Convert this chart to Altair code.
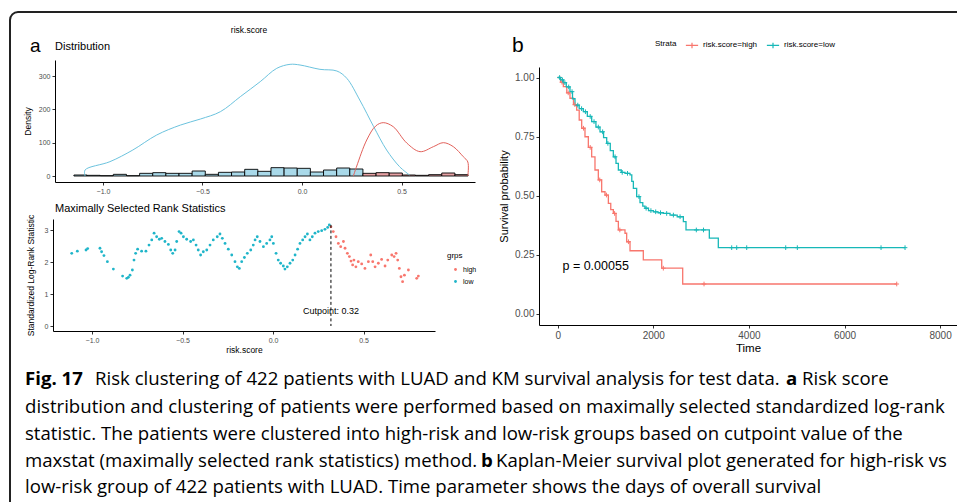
import altair as alt
import pandas as pd

FONT = "Liberation Sans"
CAPTION_FONT = "Open Sans"

# ---------------- data: panel a (distribution) ----------------
hist_first_edge = -1.146
hist_bin_width = 0.066
hist_counts = [3, 2, 1, 5, 1, 8, 10, 8, 8, 15, 5, 11, 12, 20, 14, 25, 24, 23, 12, 18,
               24, 21, 8, 10, 9, 3, 2, 4, 9, 4]
hist_groups = ["low"] * 22 + ["high"] * 8

dens_low_x = [-1.09, -1.09, -0.965, -0.85, -0.73, -0.61, -0.51, -0.41, -0.31, -0.21, -0.127,
              -0.06, -0.01, 0.09, 0.175, 0.225, 0.29, 0.36, 0.425, 0.49, 0.54]
dens_low_y = [0, 18, 43, 78, 123, 153, 171, 193, 238, 283, 323, 335, 333, 320, 315, 293,
              228, 148, 78, 28, 3]
dens_high_x = [0.258, 0.275, 0.325, 0.37, 0.408, 0.458, 0.526, 0.593, 0.66, 0.71, 0.76,
               0.81, 0.833, 0.833]
dens_high_y = [0, 30, 108, 150, 160, 148, 99, 73, 88, 100, 88, 58, 42, 0]

# ---------------- data: panel a (maximally selected rank statistics) ----------------
scatter_low_x = [-1.112, -1.081, -1.033, -1.024, -0.956, -0.947, -0.934, -0.915, -0.882, -0.831,
                 -0.808, -0.799, -0.79, -0.777, -0.768, -0.759, -0.748, -0.726, -0.702, -0.685,
                 -0.67, -0.657, -0.643, -0.628, -0.615, -0.597, -0.578, -0.565, -0.554, -0.541,
                 -0.532, -0.519, -0.508, -0.495, -0.477, -0.455, -0.44, -0.425, -0.413, -0.4,
                 -0.385, -0.366, -0.348, -0.33, -0.308, -0.293, -0.28, -0.265, -0.247, -0.228,
                 -0.21, -0.197, -0.186, -0.173, -0.158, -0.142, -0.123, -0.109, -0.099, -0.087,
                 -0.072, -0.053, -0.035, -0.017, -0.007, 0.002, 0.017, 0.029, 0.042, 0.057,
                 0.066, 0.079, 0.094, 0.109, 0.122, 0.136, 0.149, 0.164, 0.177, 0.19,
                 0.204, 0.217, 0.232, 0.25, 0.269, 0.287, 0.302, 0.311]
scatter_low_y = [2.27, 2.34, 2.375, 2.42, 2.43, 2.32, 2.2, 2.01, 1.78, 1.56,
                 1.49, 1.52, 1.59, 1.75, 2.06, 2.27, 2.4, 2.34, 2.34, 2.53,
                 2.69, 2.9, 2.79, 2.71, 2.74, 2.64, 2.55, 2.375, 2.27, 2.375,
                 2.64, 2.95, 2.9, 2.79, 2.71, 2.64, 2.69, 2.53, 2.375, 2.22,
                 2.32, 2.375, 2.53, 2.69, 2.79, 2.875, 2.74, 2.58, 2.4, 2.22,
                 2.01, 1.85, 1.8, 2.01, 2.14, 2.27, 2.375, 2.53, 2.69, 2.79,
                 2.64, 2.48, 2.58, 2.69, 2.79, 2.58, 2.27, 2.06, 1.96, 1.875,
                 1.78, 1.85, 1.96, 2.06, 2.22, 2.4, 2.58, 2.69, 2.79, 2.875,
                 2.69, 2.79, 2.9, 2.95, 2.98, 3.02, 3.08, 3.16]
scatter_high_x = [0.32, 0.333, 0.348, 0.361, 0.374, 0.389, 0.398, 0.411, 0.422, 0.431,
                  0.44, 0.447, 0.458, 0.471, 0.49, 0.508, 0.527, 0.54, 0.551, 0.564,
                  0.582, 0.6, 0.619, 0.634, 0.656, 0.669, 0.68, 0.689, 0.698, 0.707,
                  0.716, 0.726, 0.748, 0.794, 0.803]
scatter_high_y = [3.1, 2.95, 2.79, 2.58, 2.48, 2.64, 2.43, 2.27, 2.17, 2.03,
                  1.91, 2.06, 1.85, 2.01, 1.94, 1.8, 2.01, 2.22, 2.01, 1.85,
                  1.96, 2.08, 1.875, 2.06, 2.22, 2.17, 2.27, 2.06, 1.8, 1.54,
                  1.385, 1.59, 1.75, 1.49, 1.56]
cut_point = 0.32
cut_stat = 3.16
cut_label = "Cutpoint: 0.32"
cut_label_stat = 0.48

# ---------------- data: panel b (Kaplan-Meier) ----------------
strata_names = ["risk.score=high", "risk.score=low"]
km_high_time = [0, 60, 118, 190, 257, 330, 397, 450, 502, 571, 641, 711, 780, 850, 920, 990,
                1060, 1110, 1164, 1220, 1269, 1408, 1443, 1513, 1791, 2176, 2615, 7092]
km_high_surv = [1.0, 0.98, 0.961, 0.935, 0.912, 0.885, 0.862, 0.82, 0.785, 0.749, 0.704, 0.664,
                0.608, 0.566, 0.516, 0.502, 0.467, 0.44, 0.424, 0.39, 0.354, 0.34, 0.304, 0.266,
                0.227, 0.192, 0.125, 0.125]
km_low_time = [0, 60, 118, 180, 257, 310, 362, 450, 536, 620, 711, 800, 885, 960, 1025, 1100,
               1164, 1220, 1269, 1330, 1408, 1513, 1550, 1583, 1652, 1722, 1780, 1826, 1900,
               2001, 2100, 2210, 2350, 2500, 2629, 2684, 3117, 3172, 3339, 3360, 7266]
km_low_surv = [1.0, 0.99, 0.978, 0.96, 0.94, 0.91, 0.883, 0.868, 0.855, 0.835, 0.813, 0.79,
               0.77, 0.745, 0.721, 0.69, 0.664, 0.636, 0.608, 0.598, 0.594, 0.587, 0.56, 0.53,
               0.495, 0.47, 0.455, 0.446, 0.436, 0.431, 0.427, 0.424, 0.417, 0.41, 0.389, 0.354,
               0.354, 0.319, 0.319, 0.279, 0.279]
km_high_censor = [90, 220, 360, 540, 680, 880, 1020, 1190, 1300, 1480, 2210, 3061, 7092]
km_low_censor = [40, 100, 150, 230, 300, 420, 500, 580, 680, 760, 850, 940, 1050, 1200, 1350,
                 1460, 1700, 1850, 1950, 2050, 2150, 2280, 2420, 2560, 2900, 3050, 3640, 3745,
                 3954, 4770, 5013, 6764, 7266]
p_label = "p = 0.00055"
p_time = 100
p_surv = 0.2

# ---------------- texts ----------------
label_a = "a"
label_b = "b"
top_title = "risk.score"
dist_title = "Distribution"
stat_title = "Maximally Selected Rank Statistics"
caption_text = [
    ["Fig. 17", "Risk clustering of 422 patients with LUAD and KM survival analysis for test data.", "a", "Risk score"],
    ["distribution and clustering of patients were performed based on maximally selected standardized log-rank"],
    ["statistic. The patients were clustered into high-risk and low-risk groups based on cutpoint value of the"],
    ["maxstat (maximally selected rank statistics) method.", "b", "Kaplan-Meier survival plot generated for high-risk vs"],
    ["low-risk group of 422 patients with LUAD. Time parameter shows the days of overall survival"],
]
caption_bold = [[True, False, True, False], [False], [False], [False, True, False], [False]]

# ---------------- layout / style (pixels on the 957x502 canvas) ----------------
W, H = 957, 502
caption_x = [[25, 95, 786, 802], [25], [25], [25, 481, 496], [25]]
caption_y = [385, 413, 440, 467, 493]
CAP_SIZE = 18.6

DENS_X, DENS_Y = [55, 475], [182, 60]
SCAT_X, SCAT_Y = [53, 435], [331, 219]
KM_X, KM_Y = [539, 957], [325, 67]
dens_x_dom, dens_y_dom = [-1.241, 0.869], [-18, 348]
scat_x_dom, scat_y_dom = [-1.2155, 0.895], [-0.156, 3.344]
km_x_dom, km_y_dom = [-391, 8353], [-0.0487, 1.0445]

one = pd.DataFrame({"v": [0]})


def sc(dom, rng):
    return alt.Scale(domain=dom, range=rng, nice=False, zero=False)


def axis(orient, offset, small=True, **kw):
    base = dict(orient=orient, offset=offset, grid=False,
                labelFont=FONT, labelFontSize=7 if small else 10, labelColor="#4D4D4D",
                tickSize=3, tickColor="#333333", domainColor="black", domainWidth=1,
                labelPadding=2, titleFont=FONT, titleFontSize=8.5 if small else 11.5,
                titleFontWeight="normal", titleColor="black")
    base.update(kw)
    return alt.Axis(**base)


def text_layer(txt, x, y, size, align="left", font=FONT, weight="normal"):
    return alt.Chart(pd.DataFrame({"t": [txt]})).mark_text(
        align=align, baseline="alphabetic", fontSize=size, font=font,
        fontWeight=weight, color="black"
    ).encode(x=alt.value(x), y=alt.value(y), text="t:N")


# ---------------- frame ----------------
frame_top = alt.Chart(one).mark_rule(color="#222222", strokeWidth=2).encode(
    x=alt.value(18), x2=alt.value(W), y=alt.value(12))
frame_left = alt.Chart(one).mark_rule(color="#222222", strokeWidth=2).encode(
    x=alt.value(10), y=alt.value(20), y2=alt.value(H))
frame_corner = alt.Chart(one).mark_arc(theta=4.712389, theta2=6.283185, radius=9, radius2=7,
                                       color="#222222").encode(x=alt.value(18), y=alt.value(20))

# ---------------- density panel ----------------
hist_df = pd.DataFrame({
    "lo": [hist_first_edge + i * hist_bin_width for i in range(len(hist_counts))],
    "count": hist_counts,
    "grp": hist_groups,
})
hist_df["hi"] = hist_df["lo"] + hist_bin_width
hist_df["base"] = 0

dens_df = pd.concat([
    pd.DataFrame({"x": dens_low_x, "y": dens_low_y, "grp": "low", "ord": range(len(dens_low_x))}),
    pd.DataFrame({"x": dens_high_x, "y": dens_high_y, "grp": "high", "ord": range(len(dens_high_x))}),
], ignore_index=True)

bars = alt.Chart(hist_df).mark_rect(stroke="black", strokeWidth=0.9).encode(
    x=alt.X("lo:Q", scale=sc(dens_x_dom, DENS_X),
            axis=axis("bottom", DENS_Y[0] - H, values=[-1, -0.5, 0, 0.5], format=".1f"), title=None),
    x2="hi:Q",
    y=alt.Y("count:Q", scale=sc(dens_y_dom, DENS_Y),
            axis=axis("left", -DENS_X[0], values=[0, 100, 200, 300], titlePadding=6), title="Density"),
    y2="base:Q",
    fill=alt.Fill("grp:N", scale=alt.Scale(domain=["low", "high"], range=["#A9D9E9", "#E7A1A4"]), legend=None),
)
dens_lines = alt.Chart(dens_df).mark_line(strokeWidth=1, interpolate="catmull-rom").encode(
    x=alt.X("x:Q", scale=sc(dens_x_dom, DENS_X), axis=None),
    y=alt.Y("y:Q", scale=sc(dens_y_dom, DENS_Y), axis=None),
    stroke=alt.Stroke("grp:N", scale=alt.Scale(domain=["low", "high"], range=["#6CC3DE", "#E2615B"]), legend=None),
    order="ord:Q",
)

# ---------------- maxstat panel ----------------
scatter_df = pd.concat([
    pd.DataFrame({"score": scatter_low_x, "stat": scatter_low_y, "grps": "low"}),
    pd.DataFrame({"score": scatter_high_x, "stat": scatter_high_y, "grps": "high"}),
], ignore_index=True)
cut_df = pd.DataFrame({"cx": [cut_point], "cy": [cut_stat], "base": [0],
                       "ty": [cut_label_stat], "label": [cut_label]})

points = alt.Chart(scatter_df).mark_circle(size=8, opacity=1).encode(
    x=alt.X("score:Q", scale=sc(scat_x_dom, SCAT_X),
            axis=axis("bottom", SCAT_Y[0] - H, values=[-1, -0.5, 0, 0.5], format=".1f", titlePadding=2),
            title="risk.score"),
    y=alt.Y("stat:Q", scale=sc(scat_y_dom, SCAT_Y),
            axis=axis("left", -SCAT_X[0], values=[0, 1, 2, 3], titlePadding=9),
            title="Standardized Log-Rank Statistic"),
    color=alt.Color("grps:N", scale=alt.Scale(domain=["high", "low"], range=["#F8766D", "#1FB5C9"]),
                    legend=alt.Legend(title="grps", orient="none", legendX=447, legendY=252,
                                      titleFontSize=8, titleFontWeight="normal", titleFont=FONT,
                                      labelFontSize=7, labelFont=FONT, symbolSize=8,
                                      symbolType="circle", rowPadding=4, titlePadding=6,
                                      symbolOffset=5)),
)
cut_rule = alt.Chart(cut_df).mark_rule(strokeDash=[3, 2.5], color="black", strokeWidth=1).encode(
    x=alt.X("cx:Q", scale=sc(scat_x_dom, SCAT_X), axis=None),
    y=alt.Y("cy:Q", scale=sc(scat_y_dom, SCAT_Y), axis=None),
    y2="base:Q",
)
cut_text = alt.Chart(cut_df).mark_text(fontSize=9, font=FONT, color="black", baseline="middle").encode(
    x=alt.X("cx:Q", scale=sc(scat_x_dom, SCAT_X), axis=None),
    y=alt.Y("ty:Q", scale=sc(scat_y_dom, SCAT_Y), axis=None),
    text="label:N",
)


# ---------------- KM panel ----------------
def surv_at(times, survs, t):
    s = survs[0]
    for ti, si in zip(times, survs):
        if ti <= t:
            s = si
    return s


km_df = pd.concat([
    pd.DataFrame({"time": km_high_time, "surv": km_high_surv, "strata": strata_names[0]}),
    pd.DataFrame({"time": km_low_time, "surv": km_low_surv, "strata": strata_names[1]}),
], ignore_index=True)
cens_df = pd.concat([
    pd.DataFrame({"time": km_high_censor,
                  "surv": [surv_at(km_high_time, km_high_surv, t) for t in km_high_censor],
                  "strata": strata_names[0]}),
    pd.DataFrame({"time": km_low_censor,
                  "surv": [surv_at(km_low_time, km_low_surv, t) for t in km_low_censor],
                  "strata": strata_names[1]}),
], ignore_index=True)
p_df = pd.DataFrame({"t": [p_time], "s": [p_surv], "label": [p_label]})

strata_scale = alt.Scale(domain=strata_names, range=["#F8766D", "#17B8B8"])
km_legend = alt.Legend(title="Strata", orient="none", legendX=655, legendY=38,
                       direction="horizontal", titleOrient="left", titleFontSize=8,
                       titleFontWeight="normal", titleFont=FONT, labelFontSize=8,
                       labelFont=FONT, symbolType="M-1,0L1,0M0,-0.45L0,0.45",
                       symbolSize=150, symbolStrokeWidth=1.2, columnPadding=6,
                       labelOffset=4, titlePadding=8)

km_lines = alt.Chart(km_df).mark_line(interpolate="step-after", strokeWidth=1.3).encode(
    x=alt.X("time:Q", scale=sc(km_x_dom, KM_X),
            axis=axis("bottom", KM_Y[0] - H, small=False, values=[0, 2000, 4000, 6000, 8000],
                      format="d", titlePadding=2), title="Time"),
    y=alt.Y("surv:Q", scale=sc(km_y_dom, KM_Y),
            axis=axis("left", -KM_X[0], small=False, values=[0, 0.25, 0.5, 0.75, 1.0],
                      format=".2f", titlePadding=5, titleFontSize=11),
            title="Survival probability"),
    stroke=alt.Stroke("strata:N", scale=strata_scale, legend=km_legend),
)
km_cens = alt.Chart(cens_df).mark_point(shape="M-1,0L1,0M0,-1L0,1", size=22, filled=False,
                                         strokeWidth=1, opacity=1).encode(
    x=alt.X("time:Q", scale=sc(km_x_dom, KM_X), axis=None),
    y=alt.Y("surv:Q", scale=sc(km_y_dom, KM_Y), axis=None),
    stroke=alt.Stroke("strata:N", scale=strata_scale, legend=None),
)
km_p = alt.Chart(p_df).mark_text(align="left", baseline="middle", fontSize=12.5, font=FONT,
                                 color="black").encode(
    x=alt.X("t:Q", scale=sc(km_x_dom, KM_X), axis=None),
    y=alt.Y("s:Q", scale=sc(km_y_dom, KM_Y), axis=None),
    text="label:N",
)

# ---------------- caption ----------------
cap_layers = []
for li, segs in enumerate(caption_text):
    for si, seg in enumerate(segs):
        cap_layers.append(text_layer(seg, caption_x[li][si], caption_y[li], CAP_SIZE, font=CAPTION_FONT,
                                     weight="bold" if caption_bold[li][si] else "normal"))

chart = alt.layer(
    frame_top, frame_left, frame_corner,
    bars, dens_lines,
    text_layer(label_a, 30, 52, 19),
    text_layer(dist_title, 55, 50, 11),
    text_layer(top_title, 249, 33, 8.5, align="center"),
    points, cut_rule, cut_text,
    text_layer(stat_title, 55, 212, 11),
    km_lines, km_cens, km_p,
    text_layer(label_b, 512, 52, 21),
    *cap_layers,
).resolve_scale(
    x="independent", y="independent", color="independent", fill="independent",
    stroke="independent",
).resolve_axis(
    x="independent", y="independent",
).resolve_legend(
    color="independent", fill="independent", stroke="independent",
).properties(
    width=W, height=H, autosize=alt.AutoSizeParams(type="none"), padding=0,
).configure(font=FONT).configure_view(stroke="transparent")

chart.save("out.html", embed_options={"renderer": "svg", "actions": False})
